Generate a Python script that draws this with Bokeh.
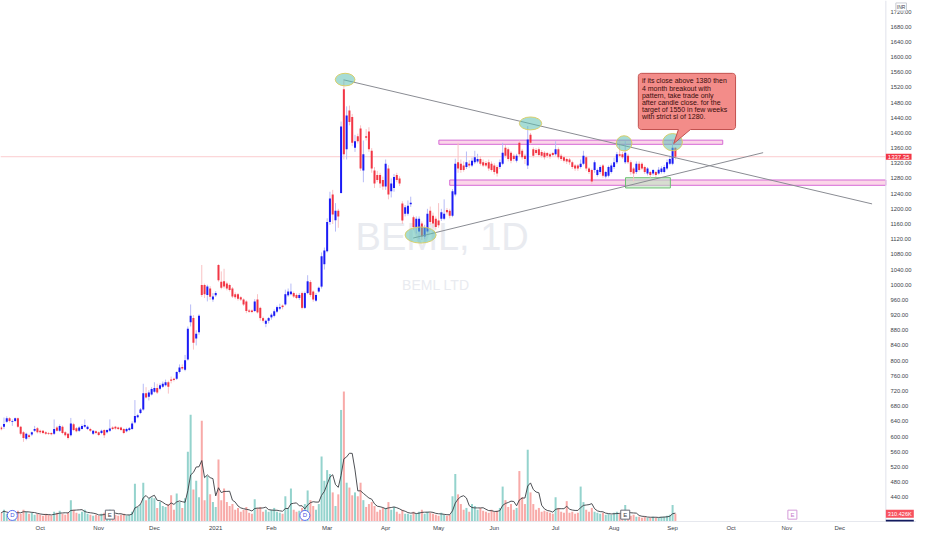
import numpy as np
import pandas as pd
from bokeh.plotting import figure
from bokeh.models import (Range1d, FixedTicker, NumeralTickFormatter, Span, Label,
                          ColumnDataSource)
from bokeh.core.properties import value
from bokeh.embed import file_html
from bokeh.resources import INLINE

# ---------------- data (BEML, daily, Sep 2020 - Sep 2021) ----------------
opens = [
    624, 626, 639, 648, 639, 641, 648, 626, 611, 594,
    603, 605, 615, 622, 615, 615, 611, 609, 609, 607,
    624, 615, 626, 611, 607, 603, 632, 622, 615, 620,
    626, 620, 620, 607, 614, 611, 609, 617, 611, 615,
    624, 626, 624, 624, 620, 614, 617, 620, 637, 651,
    662, 671, 714, 705, 711, 718, 728, 726, 731, 735,
    743, 750, 752, 752, 770, 783, 776, 803, 901, 912,
    858, 875, 999, 999, 973, 990, 961, 972, 1052, 1008,
    1009, 1003, 999, 990, 975, 975, 967, 961, 956, 932,
    932, 931, 961, 939, 912, 897, 905, 914, 918, 929,
    937, 945, 948, 972, 975, 978, 973, 965, 978, 939,
    978, 1007, 982, 958, 982, 995, 1054, 1088, 1165, 1238,
    1170, 1195, 1242, 1515, 1357, 1459, 1442, 1361, 1391, 1412,
    1301, 1391, 1404, 1353, 1301, 1289, 1289, 1276, 1259, 1306,
    1246, 1255, 1289, 1280, 1214, 1187, 1187, 1212, 1178, 1152,
    1140, 1161, 1127, 1140, 1195, 1182, 1174, 1169, 1174, 1174,
    1197, 1195, 1182, 1238, 1323, 1319, 1314, 1310, 1319, 1314,
    1323, 1325, 1331, 1323, 1321, 1323, 1319, 1314, 1310, 1310,
    1319, 1361, 1357, 1348, 1340, 1327, 1374, 1353, 1340, 1314,
    1395, 1357, 1355, 1357, 1350, 1348, 1347, 1344, 1347, 1344,
    1357, 1340, 1336, 1331, 1330, 1323, 1314, 1314, 1310, 1319,
    1336, 1306, 1302, 1302, 1289, 1297, 1314, 1285, 1287, 1297,
    1310, 1323, 1344, 1344, 1323, 1340, 1323, 1306, 1297, 1319,
    1319, 1310, 1293, 1297, 1293, 1297, 1293, 1297, 1297, 1306,
    1319, 1319, 1361,
]
highs = [
    628, 650, 653, 651, 645, 650, 650, 628, 614, 610,
    607, 613, 628, 625, 618, 617, 614, 612, 611, 645,
    628, 632, 629, 614, 609, 649, 636, 625, 627, 632,
    645, 629, 623, 617, 616, 613, 618, 619, 619, 645,
    627, 628, 626, 626, 622, 623, 625, 640, 696, 660,
    675, 739, 730, 722, 730, 743, 739, 740, 745, 750,
    747, 758, 755, 772, 790, 790, 815, 890, 948, 920,
    880, 922, 1052, 1003, 1000, 996, 978, 983, 1054, 1035,
    1042, 1008, 1003, 994, 980, 978, 970, 964, 959, 936,
    935, 962, 975, 942, 916, 908, 915, 925, 935, 945,
    950, 948, 987, 990, 1003, 982, 977, 978, 982, 982,
    1025, 1012, 985, 978, 995, 1085, 1098, 1175, 1245, 1250,
    1215, 1200, 1430, 1540, 1470, 1472, 1450, 1395, 1398, 1420,
    1380, 1410, 1415, 1360, 1310, 1300, 1295, 1285, 1330, 1315,
    1280, 1292, 1295, 1286, 1220, 1210, 1222, 1232, 1182, 1180,
    1180, 1167, 1158, 1200, 1206, 1190, 1180, 1215, 1200, 1225,
    1202, 1200, 1252, 1332, 1374, 1330, 1325, 1351, 1328, 1335,
    1353, 1345, 1338, 1330, 1326, 1330, 1325, 1320, 1315, 1330,
    1374, 1368, 1362, 1352, 1345, 1345, 1380, 1358, 1345, 1418,
    1400, 1362, 1360, 1362, 1355, 1352, 1350, 1348, 1350, 1378,
    1362, 1345, 1340, 1335, 1334, 1327, 1318, 1318, 1330, 1353,
    1340, 1310, 1306, 1328, 1306, 1315, 1318, 1300, 1314, 1320,
    1335, 1350, 1378, 1350, 1378, 1345, 1328, 1310, 1325, 1325,
    1323, 1314, 1310, 1300, 1305, 1300, 1310, 1312, 1316, 1330,
    1340, 1380, 1362,
]
lows = [
    616, 620, 636, 637, 628, 638, 623, 603, 586, 590,
    594, 601, 612, 608, 607, 606, 604, 604, 603, 604,
    613, 612, 606, 600, 592, 600, 614, 611, 612, 618,
    623, 617, 612, 604, 606, 601, 606, 596, 608, 612,
    617, 618, 617, 614, 606, 611, 614, 617, 634, 648,
    659, 668, 700, 695, 708, 715, 712, 722, 728, 732,
    713, 740, 745, 749, 766, 775, 772, 800, 890, 829,
    840, 868, 968, 965, 956, 960, 955, 968, 1008, 988,
    990, 985, 982, 965, 962, 958, 957, 944, 925, 926,
    925, 928, 924, 905, 900, 888, 898, 908, 914, 925,
    933, 935, 945, 968, 972, 965, 962, 960, 935, 936,
    975, 968, 955, 955, 979, 990, 1040, 1085, 1158, 1160,
    1140, 1150, 1240, 1330, 1330, 1420, 1365, 1350, 1372, 1300,
    1270, 1380, 1350, 1295, 1255, 1270, 1255, 1250, 1250, 1225,
    1230, 1245, 1270, 1260, 1160, 1180, 1182, 1205, 1145, 1135,
    1120, 1118, 1120, 1135, 1158, 1150, 1145, 1150, 1168, 1170,
    1185, 1175, 1178, 1233, 1295, 1295, 1298, 1305, 1308, 1310,
    1318, 1320, 1314, 1310, 1310, 1300, 1298, 1290, 1285, 1305,
    1315, 1335, 1325, 1320, 1325, 1322, 1338, 1330, 1318, 1305,
    1370, 1335, 1342, 1338, 1335, 1330, 1334, 1332, 1338, 1340,
    1330, 1326, 1322, 1318, 1316, 1305, 1300, 1300, 1306, 1315,
    1300, 1292, 1265, 1295, 1285, 1292, 1282, 1280, 1283, 1293,
    1305, 1318, 1336, 1332, 1318, 1318, 1290, 1272, 1292, 1298,
    1302, 1292, 1288, 1282, 1288, 1284, 1290, 1293, 1293, 1302,
    1315, 1315, 1330,
]
closes = [
    619, 633, 648, 641, 641, 648, 626, 607, 596, 607,
    599, 611, 620, 611, 611, 609, 607, 607, 606, 620,
    615, 628, 609, 603, 596, 634, 617, 614, 624, 628,
    630, 626, 615, 615, 609, 604, 615, 603, 617, 621,
    620, 621, 620, 617, 609, 620, 622, 634, 654, 656,
    671, 714, 703, 716, 725, 728, 716, 735, 739, 743,
    731, 747, 749, 770, 782, 779, 801, 884, 918, 847,
    871, 918, 973, 975, 995, 968, 969, 978, 1012, 992,
    995, 990, 986, 969, 967, 963, 961, 948, 931, 929,
    928, 956, 927, 912, 905, 905, 912, 921, 930, 941,
    941, 941, 975, 982, 982, 969, 965, 973, 939, 978,
    1009, 973, 961, 973, 992, 1075, 1090, 1165, 1227, 1185,
    1195, 1180, 1417, 1344, 1446, 1429, 1374, 1378, 1378, 1306,
    1344, 1387, 1357, 1306, 1267, 1276, 1267, 1259, 1319, 1238,
    1267, 1284, 1276, 1267, 1169, 1204, 1208, 1216, 1152, 1174,
    1174, 1127, 1152, 1187, 1165, 1161, 1152, 1157, 1191, 1187,
    1191, 1182, 1246, 1319, 1306, 1302, 1302, 1323, 1314, 1327,
    1336, 1331, 1319, 1314, 1314, 1306, 1302, 1297, 1293, 1323,
    1348, 1340, 1331, 1327, 1331, 1340, 1344, 1336, 1331, 1383,
    1374, 1340, 1347, 1342, 1340, 1336, 1340, 1338, 1342, 1357,
    1336, 1331, 1327, 1325, 1323, 1310, 1306, 1306, 1319, 1340,
    1306, 1297, 1272, 1323, 1302, 1310, 1287, 1297, 1310, 1314,
    1323, 1344, 1340, 1336, 1348, 1323, 1297, 1293, 1319, 1302,
    1306, 1297, 1306, 1289, 1302, 1289, 1303, 1306, 1310, 1323,
    1331, 1361, 1337.35,
]
volumes_k = [
    350, 470, 310, 270, 390, 350, 430, 310, 470, 390, 310, 350, 270, 310,
    270, 230, 310, 270, 230, 390, 350, 430, 310, 270, 350, 850, 470, 350,
    310, 390, 470, 310, 270, 230, 270,
    230, 310, 350, 270, 470, 310, 270, 230, 270, 310, 230, 270, 390,
    1513, 582, 698, 1552, 854, 931, 970, 931, 543, 776,
    621, 582, 698, 1048, 466, 1125, 776, 543, 931, 2794,
    4268, 1280, 1630, 970, 4035, 854, 1824, 1086, 776,
    582, 2483, 854, 1319, 776, 621, 698, 466, 543, 388,
    466, 582, 349, 310, 892, 543, 582, 388, 466, 388,
    466, 543, 388, 349, 310, 1009, 543, 1319, 466, 388,
    427, 543, 698, 1242, 854, 621, 466, 698, 2600, 1630,
    2056, 1901, 1164, 621, 1086, 4462, 5199, 1552, 1358, 1048,
    1164, 1009, 1552, 854, 582, 698, 776, 621, 388, 466,
    543, 543, 776, 466, 582, 388, 310, 466, 310, 310,
    272, 388, 310, 388, 466, 310, 388, 349, 310, 272,
    233, 349, 272, 233, 272,
    1009, 1901, 1086, 698, 466, 543, 388, 698, 621, 466,
    543, 427, 388, 349, 466, 388, 427, 543, 1397, 854,
    582, 698, 466, 543, 2018, 970, 698, 2871, 1164, 698,
    466, 543, 388, 427, 388, 349, 310,
    970, 543, 388, 349, 815, 349, 388, 310, 349, 1397,
    776, 466, 388, 543, 388, 349, 310, 349, 272, 310,
    272, 349, 388, 310, 233, 660, 310, 233, 272, 194,
    194, 155, 194, 155, 155, 194, 155, 155, 194, 194,
    233, 272, 660, 310.426,
]
month_ticks = [14, 35, 55, 77, 97, 117, 138, 157, 177, 199, 220, 241, 262, 282, 301]
month_labels = ["Oct", "Nov", "Dec", "2021", "Feb", "Mar", "Apr", "May", "Jun",
                "Jul", "Aug", "Sep", "Oct", "Nov", "Dec"]
price_ticks = [440 + 40 * k for k in range(33)]

# drawings (bar index, price)
trend_down_x = [122.9, 312.6]
trend_down_y = [1540, 1213]
trend_up_x = [147.9, 273.5]
trend_up_y = [1123, 1348]
ell_x = [123.45, 150.55, 190.0, 223.6, 241.0]
ell_y = [1540.6, 1131.0, 1425.0, 1372.6, 1375.7]
ell_w = [7.05, 11.15, 8.0, 5.64, 7.05]
ell_h = [33.2, 42.7, 34.0, 40.0, 45.3]
note_lines = ["if its close above 1380 then", "4 month breakout with",
              "pattern, take trade only", "after candle close. for the",
              "target of 1550 in few weeks", "with strict sl of 1280."]
div_x = [4, 109]
earn_x = [39, 224]
earn_future_x = [284]

# ---------------- figure ----------------
FONT = "Liberation Sans"
x_start, x_end = -0.25, 328.55  # visible bars incl. the price-scale strip
scale_x = 317.55                # where the price scale begins
p = figure(width=916, height=534, x_range=Range1d(x_start, x_end),
           y_range=Range1d(376, 1749), y_axis_location="right",
           output_backend="svg", toolbar_location=None,
           min_border_left=0, min_border_top=0, min_border_right=0,
           min_border_bottom=13)
p.extra_y_ranges = {"vol": Range1d(0, 20840)}
p.grid.visible = False
p.outline_line_color = None
p.background_fill_color = "white"
p.border_fill_color = "white"

yax = p.yaxis[0]
yax.ticker = FixedTicker(ticks=price_ticks)
yax.formatter = NumeralTickFormatter(format="0.00")
yax.major_label_text_font_size = "5.8px"
yax.major_label_text_font = FONT
yax.major_label_text_color = "#3c3f4a"
yax.major_tick_out = 0
yax.major_tick_in = 0
yax.minor_tick_out = 0
yax.minor_tick_in = 0
yax.axis_line_color = None
yax.major_label_standoff = -26

xax = p.xaxis[0]
xax.ticker = FixedTicker(ticks=month_ticks)
xax.major_label_overrides = {t: l for t, l in zip(month_ticks, month_labels)}
xax.major_label_text_font_size = "6px"
xax.major_label_text_font = FONT
xax.major_label_text_color = "#3c3f4a"
xax.major_tick_out = 0
xax.major_tick_in = 0
xax.minor_tick_out = 0
xax.minor_tick_in = 0
xax.axis_line_color = "#e6e8ee"
xax.major_label_standoff = 3

# price scale separator
p.add_layout(Span(location=scale_x, dimension="height", line_color="#e0e3eb",
                  line_width=1))

# watermark
p.text(x=[158.3], y=[1125], text=["BEML, 1D"], text_align="center",
       text_baseline="middle", text_font=value(FONT), text_font_size="38px",
       text_color="#e9ebf0")
p.text(x=[156.0], y=[1000], text=["BEML LTD"], text_align="center",
       text_baseline="middle", text_font=value(FONT), text_font_size="14px",
       text_color="#e9ebf0")

idx = np.arange(len(closes))
o = np.array(opens, dtype=float)
c = np.array(closes, dtype=float)
up = c >= o
vol = pd.Series(volumes_k, dtype=float)
vol_ma = vol.rolling(5, min_periods=1).mean()

src = ColumnDataSource(dict(
    x=idx, high=highs, low=lows,
    btop=np.maximum(o, c), bbot=np.minimum(o, c),
    body=np.where(up, "#1b1bf5", "#f23645"),
    wick=np.where(up, "#b7bbf6", "#f9c2c4"),
    vcol=np.where(up, "#94d3cd", "#f8aaa8"),
    vol=vol.values, ma=vol_ma.values))

# zones
p.quad(left=[157.1], right=[259.0], bottom=[1370], top=[1381],
       fill_color="#f8bbd9", fill_alpha=0.6, line_color="#d66ad6", line_width=1)
p.quad(left=[161.0], right=[scale_x], bottom=[1262], top=[1276],
       fill_color="#f8bbd9", fill_alpha=0.6, line_color="#d66ad6", line_width=1)
p.quad(left=[224.1], right=[240.2], bottom=[1255], top=[1282],
       fill_color="#b9e3bb", fill_alpha=0.55, line_color="#6dbf72", line_width=1)

# current price line
p.line([x_start, scale_x], [closes[-1], closes[-1]], line_color="#f23645",
       line_alpha=0.25, line_width=1)

# volume
p.vbar(x="x", top="vol", bottom=0, width=0.72, fill_color="vcol", line_color=None,
       y_range_name="vol", source=src)
p.line(x="x", y="ma", line_color="#3a3c42", line_width=0.9, y_range_name="vol",
       source=src)

# candles
p.segment(x0="x", y0="low", x1="x", y1="high", line_color="wick", line_width=1,
          source=src)
p.vbar(x="x", top="btop", bottom="bbot", width=0.72, fill_color="body",
       line_color=None, source=src)

# trend lines
p.line(trend_down_x, trend_down_y, line_color="#8a8c93", line_width=1)
p.line(trend_up_x, trend_up_y, line_color="#8a8c93", line_width=1)

# ellipses
p.ellipse(x=ell_x, y=ell_y, width=ell_w, height=ell_h, fill_color="#5cbfb2",
          fill_alpha=0.55, line_color="#d8cf6a", line_width=1)

# callout box with pointer
L, R, T, B = 228.7, 263.6, 1557.0, 1409.0
rx, ry = 1.1, 8.0
def arc(cx, cy, a0, a1):
    t = np.linspace(a0, a1, 6)
    return list(cx + rx * np.cos(t)), list(cy + ry * np.sin(t))
xs, ys = [], []
ax_, ay_ = arc(R - rx, T - ry, np.pi / 2, 0); xs += ax_; ys += ay_
ax_, ay_ = arc(R - rx, B + ry, 0, -np.pi / 2); xs += ax_; ys += ay_
xs += [247.4, 241.4, 243.1]; ys += [B, 1372.0, B]
ax_, ay_ = arc(L + rx, B + ry, -np.pi / 2, -np.pi); xs += ax_; ys += ay_
ax_, ay_ = arc(L + rx, T - ry, np.pi, np.pi / 2); xs += ax_; ys += ay_
p.patch(xs, ys, fill_color="#f28683", fill_alpha=0.95, line_color="#c2514f",
        line_width=1)
p.text(x=[230.0] * len(note_lines),
       y=[1537.0 - 18.9 * k for k in range(len(note_lines))],
       text=note_lines, text_align="left", text_baseline="middle",
       text_font=value(FONT), text_font_size="7px", text_color="#3a0c0c")

# dividend / earnings markers
p.scatter(x=div_x, y=[392] * len(div_x), marker="circle", size=10,
          fill_color="white", line_color="#5b6ff0", line_width=1)
p.text(x=div_x, y=[392] * len(div_x), text=["D"] * len(div_x), text_align="center",
       text_baseline="middle", text_font=value(FONT), text_font_size="6px",
       text_color="#3f51e0")
p.scatter(x=earn_x, y=[394] * len(earn_x), marker="square", size=9,
          fill_color="white", line_color="#6b6e78", line_width=1)
p.text(x=earn_x, y=[394] * len(earn_x), text=["E"] * len(earn_x), text_align="center",
       text_baseline="middle", text_font=value(FONT), text_font_size="6px",
       text_color="#3c3f4a")
p.scatter(x=earn_future_x, y=[394], marker="square", size=9,
          fill_color="white", line_color="#d49ad8", line_width=1)
p.text(x=earn_future_x, y=[394], text=["E"], text_align="center",
       text_baseline="middle", text_font=value(FONT), text_font_size="6px",
       text_color="#c77acb")

# price-scale tags
p.add_layout(Label(x=scale_x, y=closes[-1], x_offset=0, text=f"{closes[-1]:.2f}",
                   text_baseline="middle", text_font=FONT, text_font_size="6px",
                   text_color="white", background_fill_color="#f23645",
                   padding=(2, 1), level="overlay"))
p.add_layout(Label(x=scale_x, y=volumes_k[-1], x_offset=0, y_range_name="vol",
                   text=f"{volumes_k[-1]:.3f}K", text_baseline="middle",
                   text_font=FONT, text_font_size="5.6px", text_color="white",
                   background_fill_color="#f7525f", padding=(2, 1),
                   level="overlay"))
p.add_layout(Label(x=scale_x, y=volumes_k[-1], x_offset=0, y_offset=-10,
                   y_range_name="vol", text=f"{vol_ma.values[-1]:.3f}K",
                   text_baseline="middle", text_font=FONT, text_font_size="5.6px",
                   text_color="white", background_fill_color="#131b5e",
                   padding=(2, 1), level="overlay"))
p.add_layout(Label(x=scale_x, y=1732, x_offset=10, text="INR", text_baseline="middle",
                   text_font=FONT, text_font_size="5px", text_color="#3c3f4a",
                   background_fill_color="white", border_line_color="#c9ccd3",
                   padding=1, level="overlay"))

open("out.html", "w").write(file_html(p, INLINE))
